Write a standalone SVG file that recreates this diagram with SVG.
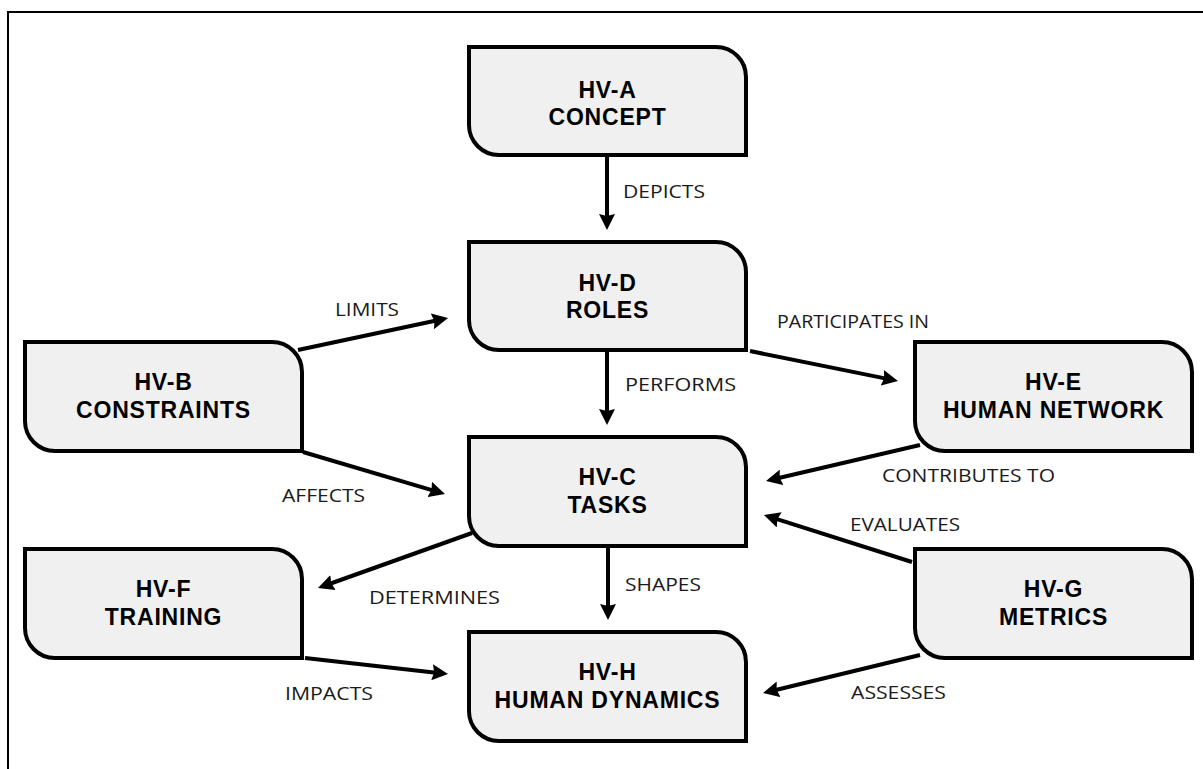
<svg xmlns="http://www.w3.org/2000/svg" width="1203" height="769" viewBox="0 0 1203 769">
  <defs>
    <marker id="arrow" markerUnits="userSpaceOnUse" markerWidth="17" markerHeight="16" refX="4" refY="8" orient="auto">
      <path d="M0,0 L16,8 L0,16 L2,8 Z" fill="#000"/>
    </marker>
    <style>
      .node path { fill: #f0f0f0; stroke: #000; stroke-width: 4; }
      .node text { font-family: "Liberation Sans", Arial, sans-serif; font-weight: bold; font-size: 23px; letter-spacing: 0.8px; text-anchor: middle; fill: #000; }
      .edges line { stroke: #000; stroke-width: 4; marker-end: url(#arrow); }
      .lbl { font-family: "Open Sans", "DejaVu Sans", sans-serif; font-size: 19px; fill: #1a1a1a; }
    </style>
  </defs>
  <rect width="1203" height="769" fill="#fff"/>
  <!-- page frame (left and top edges) -->
  <path d="M8,769 V12 H1203" fill="none" stroke="#000" stroke-width="2"/>

  <!-- connectors -->
  <g id="connectors" class="edges">
    <line x1="607" y1="157" x2="607" y2="218"/>
    <line x1="298" y1="350" x2="436.3" y2="320.5"/>
    <line x1="750" y1="351" x2="886.2" y2="378.6"/>
    <line x1="607" y1="352" x2="607" y2="413"/>
    <line x1="303" y1="452" x2="433.5" y2="490.6"/>
    <line x1="920" y1="445" x2="777.7" y2="478.3"/>
    <line x1="912" y1="562" x2="775.4" y2="518.6"/>
    <line x1="472" y1="533" x2="329.3" y2="584"/>
    <line x1="608" y1="548" x2="608" y2="608"/>
    <line x1="305" y1="658" x2="436.1" y2="672.7"/>
    <line x1="920" y1="655" x2="774.7" y2="690.2"/>
  </g>

  <!-- connector labels -->
  <g id="labels">
    <text class="lbl" x="623" y="198" textLength="82" lengthAdjust="spacingAndGlyphs">DEPICTS</text>
    <text class="lbl" x="335" y="316" textLength="64" lengthAdjust="spacingAndGlyphs">LIMITS</text>
    <text class="lbl" x="777" y="328" textLength="152" lengthAdjust="spacingAndGlyphs">PARTICIPATES IN</text>
    <text class="lbl" x="625" y="391" textLength="111" lengthAdjust="spacingAndGlyphs">PERFORMS</text>
    <text class="lbl" x="282" y="502" textLength="83" lengthAdjust="spacingAndGlyphs">AFFECTS</text>
    <text class="lbl" x="882" y="482" textLength="173" lengthAdjust="spacingAndGlyphs">CONTRIBUTES TO</text>
    <text class="lbl" x="850" y="531" textLength="110" lengthAdjust="spacingAndGlyphs">EVALUATES</text>
    <text class="lbl" x="369" y="604" textLength="131" lengthAdjust="spacingAndGlyphs">DETERMINES</text>
    <text class="lbl" x="625" y="591" textLength="76" lengthAdjust="spacingAndGlyphs">SHAPES</text>
    <text class="lbl" x="285" y="700" textLength="88" lengthAdjust="spacingAndGlyphs">IMPACTS</text>
    <text class="lbl" x="851" y="699" textLength="95" lengthAdjust="spacingAndGlyphs">ASSESSES</text>
  </g>

  <!-- nodes: square top-left / bottom-right, rounded top-right / bottom-left -->
  <g id="hv-a" class="node">
    <path d="M469,47 H716 A30,30 0 0 1 746,77 V155 H499 A30,30 0 0 1 469,125 Z"/>
    <text x="607.5" y="98">HV-A</text>
    <text x="607.5" y="125">CONCEPT</text>
  </g>
  <g id="hv-d" class="node">
    <path d="M469,242 H716 A30,30 0 0 1 746,272 V350 H499 A30,30 0 0 1 469,320 Z"/>
    <text x="607.5" y="291">HV-D</text>
    <text x="607.5" y="318">ROLES</text>
  </g>
  <g id="hv-c" class="node">
    <path d="M469,437 H716 A30,30 0 0 1 746,467 V546 H499 A30,30 0 0 1 469,516 Z"/>
    <text x="607.5" y="485">HV-C</text>
    <text x="607.5" y="513">TASKS</text>
  </g>
  <g id="hv-h" class="node">
    <path d="M469,632 H716 A30,30 0 0 1 746,662 V741 H499 A30,30 0 0 1 469,711 Z"/>
    <text x="607.5" y="680">HV-H</text>
    <text x="607.5" y="708">HUMAN DYNAMICS</text>
  </g>
  <g id="hv-b" class="node">
    <path d="M25,342 H272 A30,30 0 0 1 302,372 V451 H55 A30,30 0 0 1 25,421 Z"/>
    <text x="163.5" y="390">HV-B</text>
    <text x="163.5" y="418">CONSTRAINTS</text>
  </g>
  <g id="hv-e" class="node">
    <path d="M915,342 H1162 A30,30 0 0 1 1192,372 V451 H945 A30,30 0 0 1 915,421 Z"/>
    <text x="1053.5" y="390">HV-E</text>
    <text x="1053.5" y="418">HUMAN NETWORK</text>
  </g>
  <g id="hv-f" class="node">
    <path d="M25,549 H272 A30,30 0 0 1 302,579 V658 H55 A30,30 0 0 1 25,628 Z"/>
    <text x="163.5" y="597">HV-F</text>
    <text x="163.5" y="625">TRAINING</text>
  </g>
  <g id="hv-g" class="node">
    <path d="M915,549 H1162 A30,30 0 0 1 1192,579 V658 H945 A30,30 0 0 1 915,628 Z"/>
    <text x="1053.5" y="597">HV-G</text>
    <text x="1053.5" y="625">METRICS</text>
  </g>
</svg>
